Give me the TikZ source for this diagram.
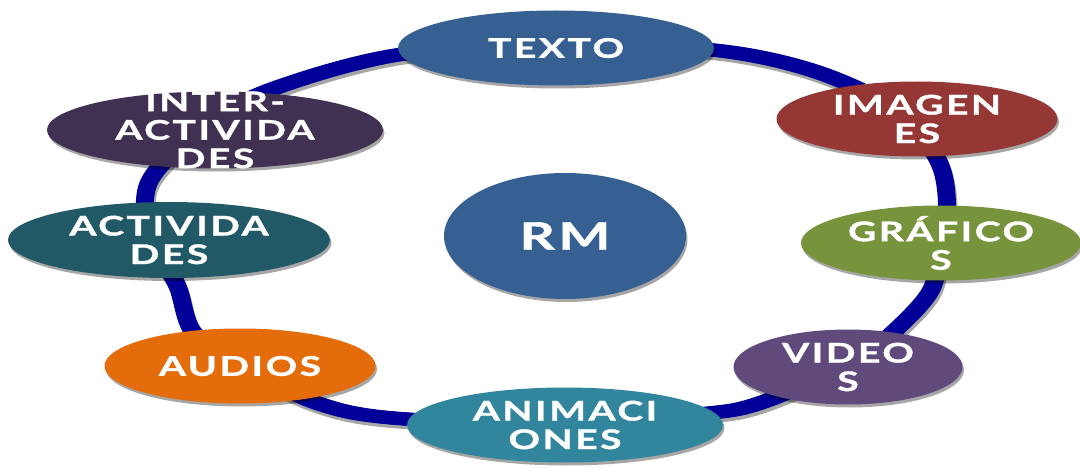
\documentclass[tikz,border=0pt]{standalone}
\usepackage{fontspec}
\newfontfamily\lblfont{Lato}[FakeStretch=1.45, LetterSpace=9, FakeBold=1.2]
\usetikzlibrary{shapes.geometric,shadows}
\definecolor{ringblue}{RGB}{0,0,153}
\definecolor{ctexto}{RGB}{54,96,146}
\definecolor{cimg}{RGB}{149,55,53}
\definecolor{cgraf}{RGB}{119,147,60}
\definecolor{cvid}{RGB}{96,74,123}
\definecolor{canim}{RGB}{49,133,156}
\definecolor{caud}{RGB}{228,108,10}
\definecolor{cact}{RGB}{33,89,103}
\definecolor{cint}{RGB}{64,49,82}
\newcommand\ringcurve[1]{\draw[#1] plot[smooth cycle, tension=0.55] coordinates {
 (556,45) (713,50) (817,72) (900,112) (938,160) (947,205) (940,250) (930,292)
 (890,335) (850,364) (760,403) (700,414) (560,424) (393,418) (317,403) (245,368)
 (194,333) (177,285) (152,242) (145,200) (157,170) (205,126) (270,90) (397,55)};}
\begin{document}
\begin{tikzpicture}[x=1pt,y=-1pt,
  bub/.style={ellipse, inner sep=0pt, draw=none,
    drop shadow={shadow xshift=1.5pt, shadow yshift=-3pt, opacity=.35, fill=black}},
  lbl/.style={text=white, align=center, inner sep=0pt,
    font=\lblfont\bfseries\fontsize{27}{28.5}\selectfont},
  ringline/.style={draw=ringblue, line width=13pt},
  ringshadow/.style={draw=black!35, line width=13pt}]
\useasboundingbox (0,0) rectangle (1080,468);
% ring
\ringcurve{ringshadow, xshift=-1pt, yshift=-3.5pt}
\ringcurve{ringshadow, xshift=4pt, yshift=-3.5pt}
\ringcurve{ringline, xshift=-2.5pt}
\ringcurve{ringline, xshift=2.5pt}
\ringcurve{ringline}
% nodes
\node[bub, fill=ctexto, minimum width=316pt, minimum height=75pt] (texto) at (556,48) {};
\node[lbl] (textoT) at (texto) {TEXTO};
\node[bub, fill=cimg, minimum width=281pt, minimum height=75pt] (img) at (917,119) {};
\node[lbl] (imgT) at (img) {IMAGEN\\ES};
\node[bub, fill=cgraf, minimum width=280pt, minimum height=75pt] (graf) at (941,243) {};
\node[lbl] (grafT) at (graf) {GRÁFICO\\S};
\node[bub, fill=cvid, minimum width=229pt, minimum height=75pt] (vid) at (848,367) {};
\node[lbl] (vidT) at (vid) {VIDEO\\S};
\node[bub, fill=canim, minimum width=316pt, minimum height=75pt] (anim) at (565,425) {};
\node[lbl] (animT) at (anim) {ANIMACI\\ONES};
\node[bub, fill=caud, minimum width=271pt, minimum height=75pt] (aud) at (240,366) {};
\node[lbl] (audT) at (aud) {AUDIOS};
\node[bub, fill=cact, minimum width=322pt, minimum height=76pt] (act) at (169,240) {};
\node[lbl] (actT) at (act) {ACTIVIDA\\DES};
\node[bub, fill=cint, minimum width=336pt, minimum height=77pt] (inter) at (215,130) {};
\node[lbl] (interT) at (inter) {INTER-\\ACTIVIDA\\DES};
\node[bub, fill=ctexto, minimum width=242pt, minimum height=126pt] (rm) at (565,236) {};
\node[lbl, font=\lblfont\bfseries\fontsize{38}{40}\selectfont] (rmT) at (rm) {RM};
\end{tikzpicture}
\end{document}
